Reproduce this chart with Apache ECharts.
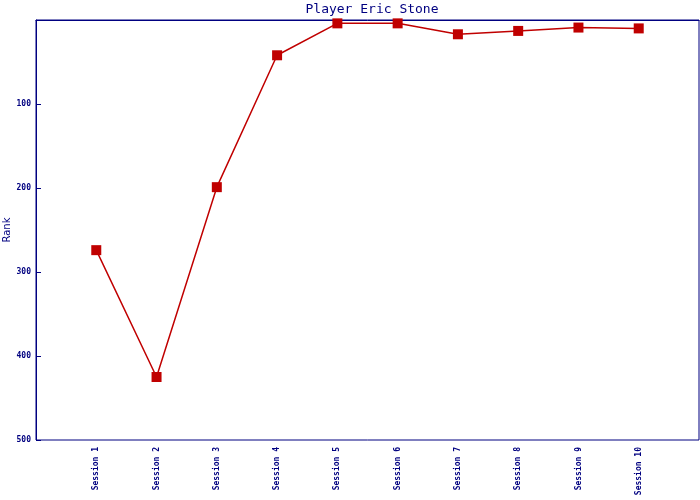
<!DOCTYPE html>
<html>
<head>
<meta charset="utf-8">
<script src="https://cdn.jsdelivr.net/npm/echarts@6/dist/echarts.min.js"></script>
<style>html,body{margin:0;padding:0;background:#fff}#c{width:700px;height:500px}</style>
</head>
<body>
<div id="c"></div>
<script>
const titleText = 'Player Eric Stone';
const sessions = ['Session 1','Session 2','Session 3','Session 4','Session 5','Session 6','Session 7','Session 8','Session 9','Session 10'];
const ranks = [274, 425, 199, 42, 4, 4, 17, 13, 9, 10];
const yTicks = [0, 100, 200, 300, 400, 500];

const navy = '#000080';
const red = '#c00000';
const chart = echarts.init(document.getElementById('c'));
chart.setOption({
  animation: false,
  backgroundColor: '#ffffff',
  title: {
    text: titleText, left: 367, top: -2, textAlign: 'center',
    textStyle: { fontFamily: 'DejaVu Sans Mono', fontSize: 13, fontWeight: 'normal', color: navy }
  },
  grid: { left: 36, right: 1, top: 20, bottom: 60, outerBoundsMode: 'none', containLabel: false, show: true, borderColor: navy, borderWidth: 1 },
  xAxis: {
    type: 'category',
    boundaryGap: false,
    data: [''].concat(sessions, ['']),
    axisLine: { lineStyle: { color: navy, width: 1 } },
    axisTick: { show: false },
    splitLine: { show: false },
    axisLabel: { interval: 0, rotate: 90, margin: 7, color: navy, fontFamily: 'DejaVu Sans Mono', fontSize: 8, fontWeight: 'bold' }
  },
  yAxis: {
    type: 'value', inverse: true, min: yTicks[0], max: yTicks[yTicks.length - 1], interval: 100,
    name: 'Rank', nameLocation: 'middle', nameGap: 24, nameMoveOverlap: false,
    nameTextStyle: { color: navy, fontFamily: 'DejaVu Sans', fontSize: 10 },
    axisLine: { show: true, lineStyle: { color: navy, width: 1 } },
    axisTick: { show: true, inside: true, length: 5, lineStyle: { color: navy, width: 1 } },
    splitLine: { show: false },
    axisLabel: { margin: 5, color: navy, fontFamily: 'DejaVu Sans Mono', fontSize: 8, fontWeight: 'bold',
      formatter: v => v === yTicks[0] ? '' : String(v) }
  },
  series: [{
    type: 'line',
    data: [null].concat(ranks, [null]),
    symbol: 'rect', symbolSize: 10,
    itemStyle: { color: red },
    lineStyle: { color: red, width: 1.5 }
  }]
});
</script>
</body>
</html>
